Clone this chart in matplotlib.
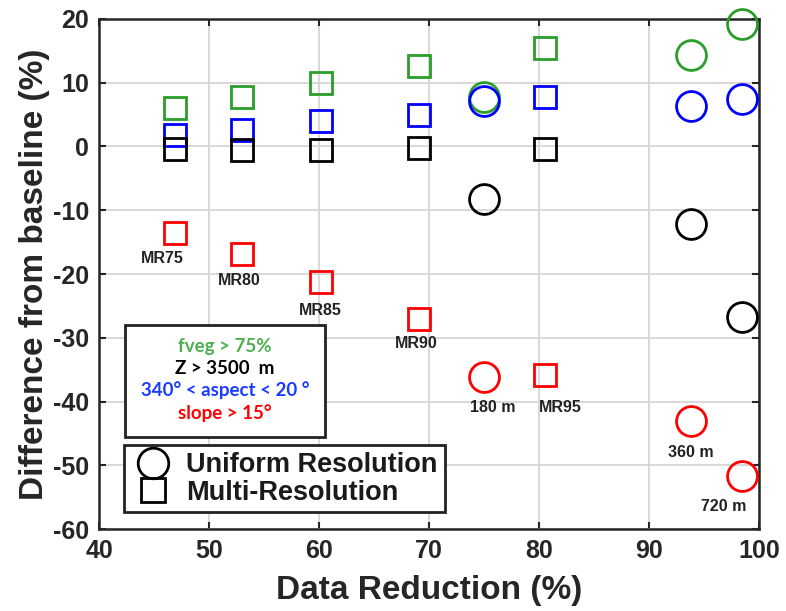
import matplotlib
matplotlib.use('Agg')
import matplotlib.pyplot as plt
from matplotlib.lines import Line2D
from matplotlib.patches import Rectangle

# multi-resolution runs (MR75 .. MR95)
mr_x = [46.9, 53.0, 60.2, 69.1, 80.5]
mr_fveg = [6.1, 7.8, 10.0, 12.6, 15.5]
mr_aspect = [1.8, 2.6, 4.0, 5.0, 7.8]
mr_z = [-0.4, -0.5, -0.5, -0.3, -0.4]
mr_slope = [-13.5, -16.9, -21.3, -27.0, -35.9]
mr_names = ['MR75', 'MR80', 'MR85', 'MR90', 'MR95']

# uniform resolution runs
ur_x = [75.0, 93.8, 98.4]
ur_fveg = [7.7, 14.4, 19.2]
ur_aspect = [7.1, 6.3, 7.5]
ur_z = [-8.2, -12.1, -26.8]
ur_slope = [-36.1, -43.0, -51.7]
ur_names = ['180 m', '360 m', '720 m']

green = '#2a9d2a'
blue = '#0000ff'
red = '#ff0000'
black = '#000000'

plt.rcParams['font.family'] = ['Liberation Sans', 'DejaVu Sans']
plt.rcParams['font.weight'] = 'bold'
plt.rcParams['axes.unicode_minus'] = False

fig = plt.figure(figsize=(7.86, 6.11), dpi=100)
ax = fig.add_axes([0.126, 0.134, 0.840, 0.835])

sq = dict(marker='s', ms=16, mew=2.0, mfc='none', ls='none', clip_on=False)
ci = dict(marker='o', ms=21.5, mew=2.0, mfc='none', ls='none', clip_on=False)

for ys, c in [(mr_fveg, green), (mr_aspect, blue), (mr_z, black), (mr_slope, red)]:
    ax.plot(mr_x, ys, mec=c, zorder=3, **sq)
for ys, c in [(ur_fveg, green), (ur_aspect, blue), (ur_z, black), (ur_slope, red)]:
    ax.plot(ur_x, ys, mec=c, zorder=3, **ci)

# run labels under the slope markers
mr_off = [(-9, -19), (-2, -19), (-1, -20), (-2, -18), (11, -23)]
for x, y, name, off in zip(mr_x, mr_slope, mr_names, mr_off):
    ax.annotate(name, (x, y), xytext=off, textcoords='offset points',
                ha='center', va='center', fontsize=11.5, color='#222222')
ur_off = [(6, -22), (0, -23), (-13, -22)]
for x, y, name, off in zip(ur_x, ur_slope, ur_names, ur_off):
    ax.annotate(name, (x, y), xytext=off, textcoords='offset points',
                ha='center', va='center', fontsize=11.5, color='#222222')

ax.set_xlim(40, 100)
ax.set_ylim(-60, 20)
ax.set_xticks(range(40, 101, 10))
ax.set_yticks(range(-60, 21, 10))
ax.grid(True, color='#d6d6d6', lw=1.3)
ax.set_axisbelow(True)
ax.tick_params(direction='in', length=5, width=1.5, top=True, right=True,
               labelsize=18, colors='#262626', pad=7)
for lab in ax.get_xticklabels() + ax.get_yticklabels():
    lab.set_fontweight('bold')
for s in ax.spines.values():
    s.set_linewidth(1.8)
    s.set_color('#262626')

ax.set_xlabel('Data Reduction (%)', fontsize=24, fontweight='bold',
              color='#262626', labelpad=9)
ax.set_ylabel('Difference from baseline (%)', fontsize=24, fontweight='bold',
              color='#262626', labelpad=2)

# class legend box
ax.add_patch(Rectangle((0.039, 0.180), 0.303, 0.220, transform=ax.transAxes,
                       fill=True, fc='white', ec='#222222', lw=2.0, zorder=5))
box_lines = [('fveg > 75%', '#4caf50', 0.357),
             ('Z > 3500  m', black, 0.315),
             ('340° < aspect < 20 °', '#1a3cff', 0.272),
             ('slope > 15°', red, 0.227)]
for txt, c, y in box_lines:
    ax.text(0.191, y, txt, transform=ax.transAxes, ha='center', va='center',
            fontsize=13.5, color=c, fontweight='bold', family=['Lato', 'DejaVu Sans'],
            zorder=6)

handles = [Line2D([], [], marker='o', ms=22, mew=2, mfc='none', mec='k', ls='none'),
           Line2D([], [], marker='s', ms=17, mew=2, mfc='none', mec='k', ls='none')]
leg = ax.legend(handles, ['Uniform Resolution', 'Multi-Resolution'],
                loc='lower left', bbox_to_anchor=(0.038, 0.033),
                fontsize=19.5, frameon=True, fancybox=False, framealpha=1,
                edgecolor='#222222', borderpad=0.25, handletextpad=0.45,
                labelspacing=0.05, handlelength=1.6, borderaxespad=0)
leg.get_frame().set_linewidth(2.0)
for t in leg.get_texts():
    t.set_fontweight('bold')
    t.set_color('#1a1a1a')
leg.set_zorder(6)

fig.savefig('out.png', dpi=100)
